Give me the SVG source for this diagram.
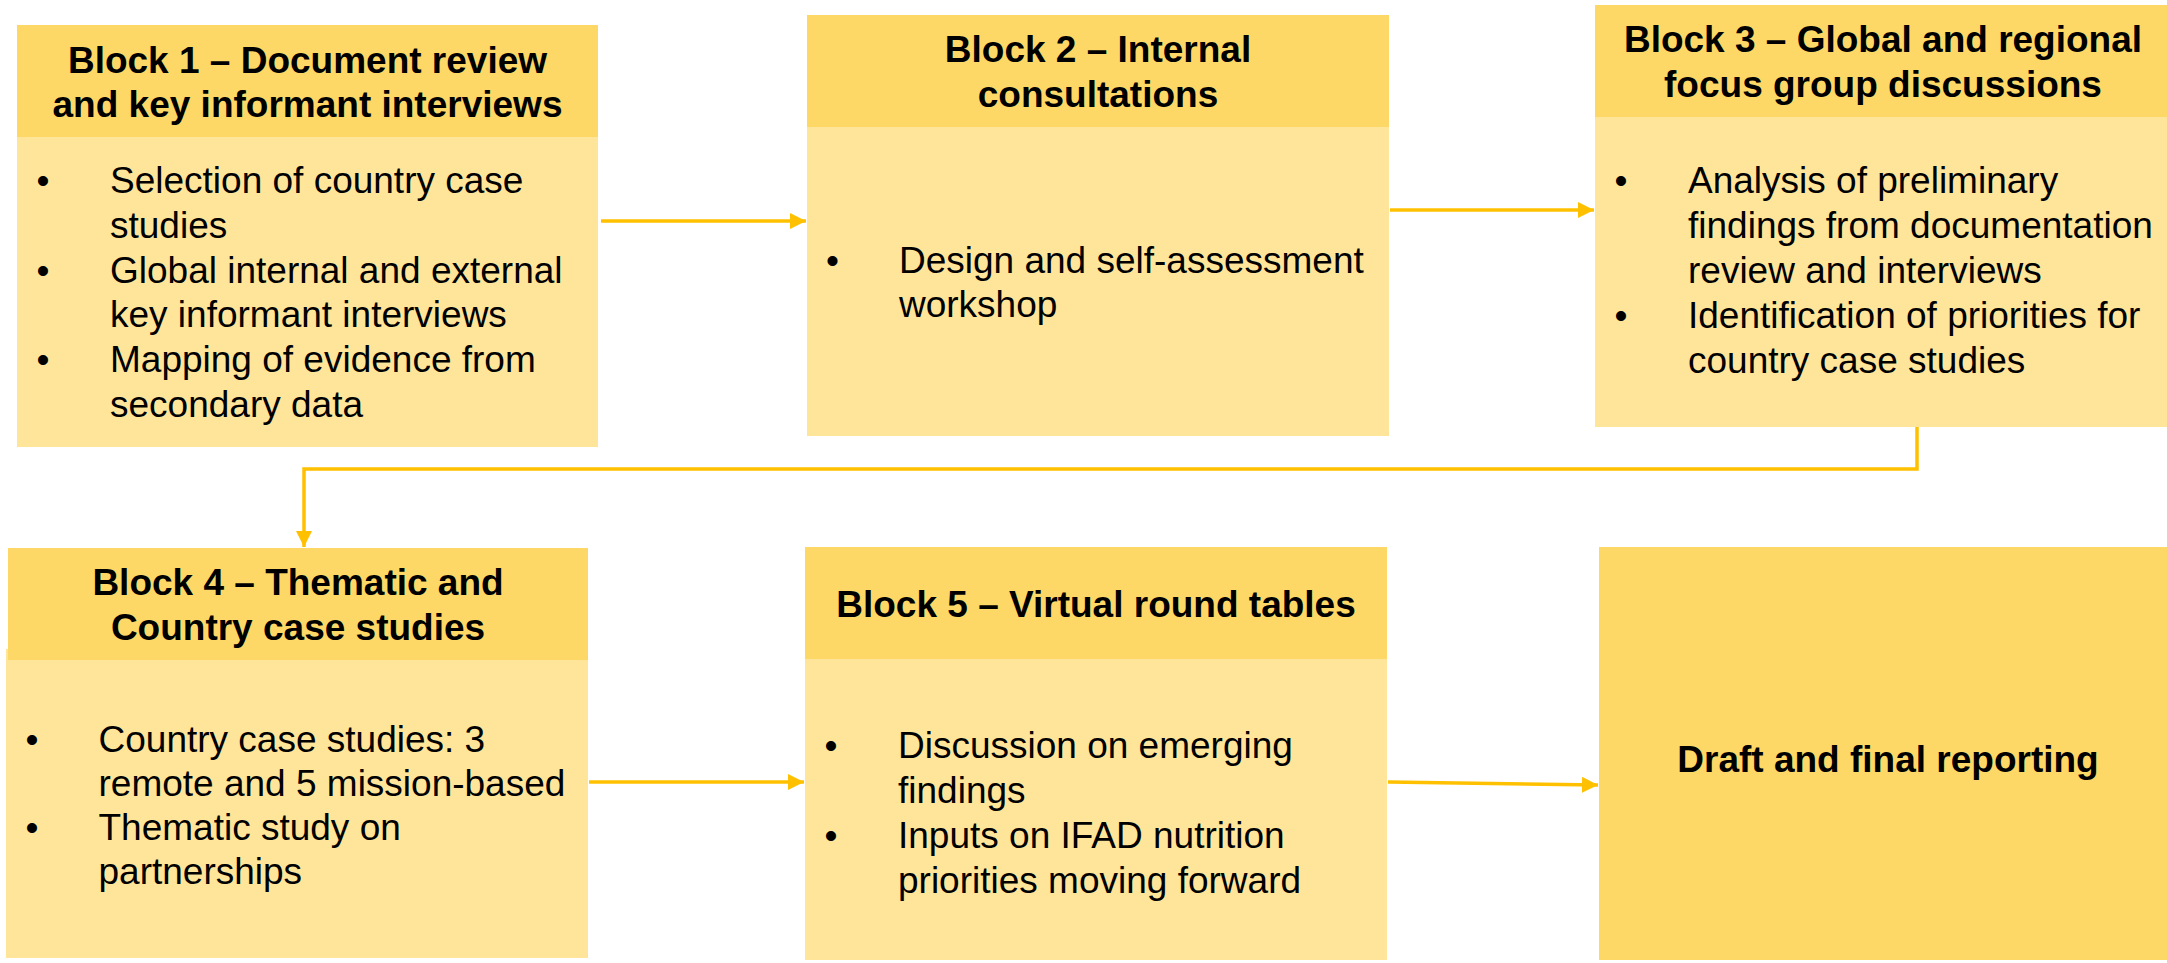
<svg xmlns="http://www.w3.org/2000/svg" width="2167" height="963" viewBox="0 0 2167 963">
<style>
.hd{fill:#FDD866}
.bd{fill:#FFE599}
.t{font-family:"Liberation Sans",Arial,sans-serif;font-size:37px;fill:#000}
.tb{font-family:"Liberation Sans",Arial,sans-serif;font-size:37px;font-weight:bold;fill:#000;text-anchor:middle}
.cn{fill:none;stroke:#FFC000;stroke-width:3.5}
</style>
<defs>
<marker id="ah" markerUnits="userSpaceOnUse" markerWidth="16" markerHeight="16" viewBox="0 0 15 15" refX="15" refY="7.5" orient="auto">
<path d="M0,0 L15,7.5 L0,15 z" fill="#FFC000"/>
</marker>
</defs>
<rect width="2167" height="963" fill="#fff"/>
<g id="connectors">
<line class="cn" x1="601" y1="221" x2="806" y2="221" marker-end="url(#ah)"/>
<line class="cn" x1="1390" y1="210" x2="1594" y2="210" marker-end="url(#ah)"/>
<polyline class="cn" points="1917,427 1917,469 304,469 304,547" marker-end="url(#ah)"/>
<line class="cn" x1="589" y1="782" x2="804" y2="782" marker-end="url(#ah)"/>
<line class="cn" x1="1388" y1="782" x2="1598" y2="785" marker-end="url(#ah)"/>
</g>
<g id="block1">
<rect class="bd" x="17" y="137" width="581" height="310"/>
<rect class="hd" x="17" y="25" width="581" height="112"/>
<text class="tb" x="307.5" y="73">Block 1 – Document review</text>
<text class="tb" x="307.5" y="117">and key informant interviews</text>
<text class="t" x="36.5" y="193">•</text>
<text class="t" x="110" y="193">Selection of country case</text>
<text class="t" x="110" y="237.5">studies</text>
<text class="t" x="36.5" y="282.5">•</text>
<text class="t" x="110" y="282.5">Global internal and external</text>
<text class="t" x="110" y="327">key informant interviews</text>
<text class="t" x="36.5" y="372">•</text>
<text class="t" x="110" y="372">Mapping of evidence from</text>
<text class="t" x="110" y="416.5">secondary data</text>
</g>
<g id="block2">
<rect class="bd" x="807" y="127" width="582" height="309"/>
<rect class="hd" x="807" y="15" width="582" height="112"/>
<text class="tb" x="1098" y="62">Block 2 – Internal</text>
<text class="tb" x="1098" y="107">consultations</text>
<text class="t" x="826" y="273">•</text>
<text class="t" x="899" y="273">Design and self-assessment</text>
<text class="t" x="899" y="317">workshop</text>
</g>
<g id="block3">
<rect class="bd" x="1595" y="117" width="572" height="310"/>
<rect class="hd" x="1595" y="5" width="572" height="112"/>
<text class="tb" x="1883" y="52">Block 3 – Global and regional</text>
<text class="tb" x="1883" y="97">focus group discussions</text>
<text class="t" x="1614.5" y="193">•</text>
<text class="t" x="1688" y="193">Analysis of preliminary</text>
<text class="t" x="1688" y="238">findings from documentation</text>
<text class="t" x="1688" y="283">review and interviews</text>
<text class="t" x="1614.5" y="328">•</text>
<text class="t" x="1688" y="328">Identification of priorities for</text>
<text class="t" x="1688" y="373">country case studies</text>
</g>
<g id="block4">
<rect class="bd" x="6" y="649" width="582" height="309"/>
<rect class="hd" x="8" y="548" width="580" height="112"/>
<text class="tb" x="298" y="595">Block 4 – Thematic and</text>
<text class="tb" x="298" y="640">Country case studies</text>
<text class="t" x="25.5" y="752">•</text>
<text class="t" x="98.5" y="752">Country case studies: 3</text>
<text class="t" x="98.5" y="796">remote and 5 mission-based</text>
<text class="t" x="25.5" y="840">•</text>
<text class="t" x="98.5" y="840">Thematic study on</text>
<text class="t" x="98.5" y="884">partnerships</text>
</g>
<g id="block5">
<rect class="bd" x="805" y="659" width="582" height="301"/>
<rect class="hd" x="805" y="547" width="582" height="112"/>
<text class="tb" x="1096" y="617">Block 5 – Virtual round tables</text>
<text class="t" x="824.5" y="758">•</text>
<text class="t" x="898" y="758">Discussion on emerging</text>
<text class="t" x="898" y="803">findings</text>
<text class="t" x="824.5" y="848">•</text>
<text class="t" x="898" y="848">Inputs on IFAD nutrition</text>
<text class="t" x="898" y="893">priorities moving forward</text>
</g>
<g id="block6">
<rect class="hd" x="1599" y="547" width="568" height="413"/>
<text class="tb" x="1888" y="772">Draft and final reporting</text>
</g>
</svg>
